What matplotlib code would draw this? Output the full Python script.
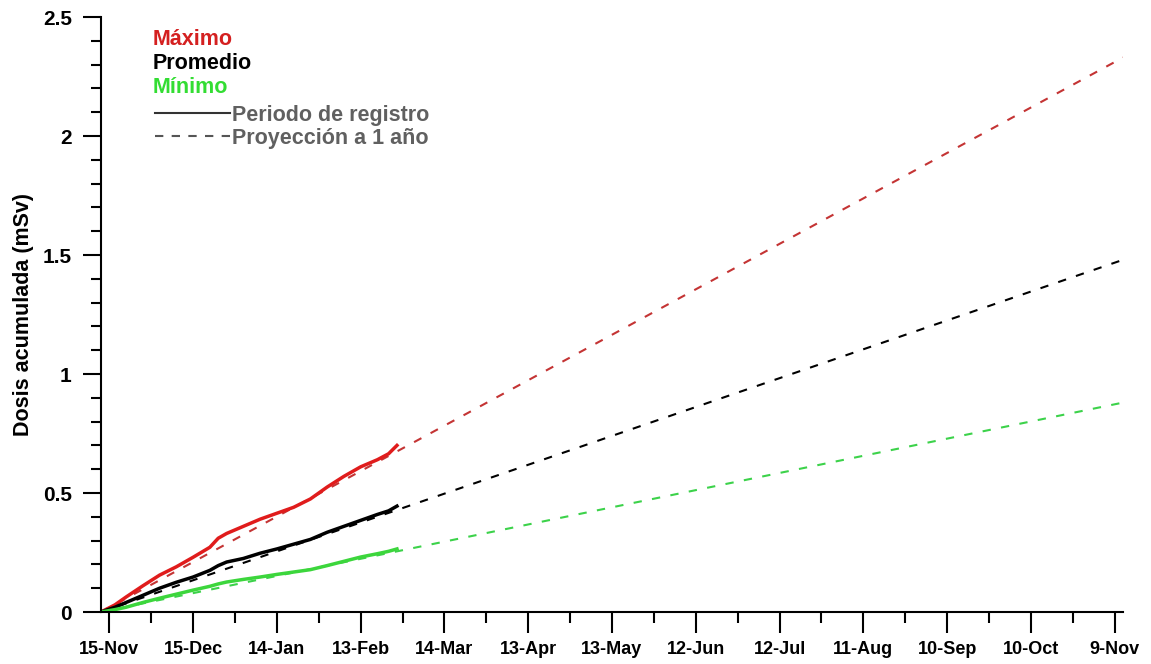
import pandas as pd
import matplotlib
matplotlib.use("Agg")
import matplotlib.pyplot as plt
import matplotlib.dates as mdates
from matplotlib.lines import Line2D
from matplotlib.ticker import MultipleLocator, FuncFormatter, FixedLocator

# =========================
# DATA
# =========================

start_date = "2019-11-12"
end_date = "2020-11-12"

# days since start of the record
rec_days = [0, 5, 9, 15, 21, 27, 33, 39, 42, 45, 51, 57, 63, 69, 75, 81, 87, 93, 99, 103, 106]

dose_max = [0, 0.03, 0.063, 0.11, 0.155, 0.19, 0.23, 0.272, 0.31, 0.33, 0.36, 0.39,
            0.415, 0.44, 0.475, 0.525, 0.57, 0.61, 0.64, 0.665, 0.70]
dose_mean = [0, 0.02, 0.04, 0.07, 0.10, 0.125, 0.147, 0.175, 0.195, 0.21, 0.225, 0.247,
             0.265, 0.285, 0.305, 0.335, 0.36, 0.385, 0.41, 0.425, 0.445]
dose_min = [0, 0.01, 0.02, 0.04, 0.058, 0.075, 0.092, 0.108, 0.118, 0.126, 0.137, 0.147,
            0.158, 0.168, 0.178, 0.195, 0.213, 0.231, 0.245, 0.255, 0.265]

# projected dose after one year (mSv)
proj_max = 2.33
proj_mean = 1.48
proj_min = 0.88

labels = ["Máximo", "Promedio", "Mínimo"]
label_colors = ["#d42020", "#000000", "#33dd33"]

# =========================
# PLOT
# =========================

plt.rcParams["font.family"] = ["Liberation Sans", "DejaVu Sans"]
plt.rcParams["font.weight"] = "bold"

t0 = pd.Timestamp(start_date)
t1 = pd.Timestamp(end_date)
rec_dates = [t0 + pd.Timedelta(days=d) for d in rec_days]

fig = plt.figure(figsize=(11.51, 6.64), dpi=100)
ax = fig.add_axes([0.0877, 0.0783, 0.888, 0.896])

solid = [("#e01c1c", dose_max), ("#000000", dose_mean), ("#3cd63c", dose_min)]
dashed = [("#c43434", proj_max), ("#000000", proj_mean), ("#3cd24a", proj_min)]

for color, end_val in dashed:
    ax.plot([t0, t1], [0, end_val], color=color, lw=1.5, dashes=(4, 5))

for color, vals in solid:
    ax.plot(rec_dates, vals, color=color, lw=2.5)

ax.set_xlim(t0, t1)
ax.set_ylim(0, 2.5)

# ticks every 30 days starting 15-Nov
major = [pd.Timestamp("2019-11-15") + pd.Timedelta(days=30 * k) for k in range(13)]
minor = [m + pd.Timedelta(days=15) for m in major[:-1]]
ax.xaxis.set_major_locator(FixedLocator(mdates.date2num(major)))
ax.xaxis.set_minor_locator(FixedLocator(mdates.date2num(minor)))
ax.xaxis.set_major_formatter(FuncFormatter(
    lambda v, p: f"{mdates.num2date(v).day}-{mdates.num2date(v):%b}"))

ax.yaxis.set_major_locator(MultipleLocator(0.5))
ax.yaxis.set_minor_locator(MultipleLocator(0.1))
ax.yaxis.set_major_formatter(FuncFormatter(lambda v, p: f"{v:g}"))

ax.spines["top"].set_visible(False)
ax.spines["right"].set_visible(False)
for s in ["left", "bottom"]:
    ax.spines[s].set_linewidth(1.5)

ax.tick_params(axis="x", which="major", direction="out", length=15, width=1.5)
ax.tick_params(axis="x", which="minor", direction="out", length=8, width=1.5)
ax.tick_params(axis="y", which="major", direction="out", length=13, width=1.5)
ax.tick_params(axis="y", which="minor", direction="out", length=7, width=1.5)
ax.tick_params(axis="x", labelsize=13, pad=6)
ax.tick_params(axis="y", labelsize=15, pad=8)

ax.set_ylabel("Dosis acumulada (mSv)", fontsize=15.5, fontweight="bold", labelpad=6)

# colored series labels
for i, (lab, col) in enumerate(zip(labels, label_colors)):
    ax.text(0.051, 0.962 - i * 0.0405, lab, color=col, fontsize=15.5,
            fontweight="bold", va="center", transform=ax.transAxes)

# line style legend
handles = [Line2D([], [], color="#333333", lw=1.5),
           Line2D([], [], color="#555555", lw=1.5, dashes=(4, 4))]
ax.legend(handles, ["Periodo de registro", "Proyección a 1 año"],
          loc="upper left", bbox_to_anchor=(0.0528, 0.853), frameon=False,
          handlelength=3.5, handletextpad=0.08, labelspacing=0.1,
          borderpad=0, borderaxespad=0, labelcolor="#606060",
          prop={"size": 15.5, "weight": "bold"})

fig.savefig("out.png", dpi=100)
